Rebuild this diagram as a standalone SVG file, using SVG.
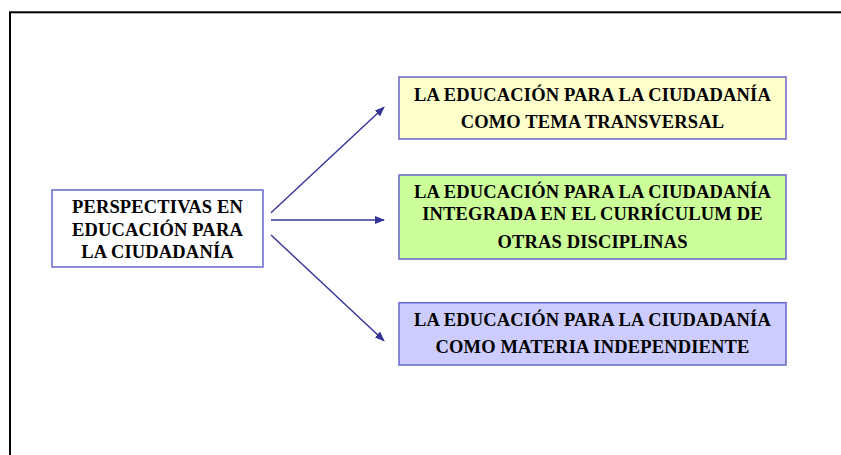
<svg xmlns="http://www.w3.org/2000/svg" width="841" height="455" viewBox="0 0 841 455">
<style>
.box{stroke:#6666cc;stroke-width:1.5}
.t{font-family:"Liberation Serif","Times New Roman",serif;font-weight:bold;font-size:18.5px;letter-spacing:0.15px;fill:#000;text-anchor:middle}
.c{stroke:#333399;stroke-width:1.4;fill:none;marker-end:url(#ah)}
</style>
<defs>
<marker id="ah" viewBox="0 0 10 8" refX="9" refY="4" markerWidth="10" markerHeight="8" markerUnits="userSpaceOnUse" orient="auto">
<path d="M0,0 L10,4 L0,8 Z" fill="#333399"/>
</marker>
</defs>
<rect width="841" height="455" fill="#fff"/>
<rect x="10" y="12.3" width="860" height="480" fill="none" stroke="#000" stroke-width="2"/>
<g id="connectors">
<line class="c" x1="271" y1="212.7" x2="384" y2="107.3"/>
<line class="c" x1="271" y1="220" x2="384" y2="220"/>
<line class="c" x1="271" y1="235" x2="384" y2="340.7"/>
</g>
<g id="n0">
<rect class="box" x="52" y="190" width="211" height="77" fill="#fff"/>
<text class="t" x="157.5" y="213.3">PERSPECTIVAS EN</text>
<text class="t" x="157.5" y="236">EDUCACIÓN PARA</text>
<text class="t" x="157.5" y="258.3">LA CIUDADANÍA</text>
</g>
<g id="n1">
<rect class="box" x="399" y="77" width="387" height="62" fill="#ffffcc"/>
<text class="t" x="592.5" y="100.7">LA EDUCACIÓN PARA LA CIUDADANÍA</text>
<text class="t" x="592.5" y="128.3">COMO TEMA TRANSVERSAL</text>
</g>
<g id="n2">
<rect class="box" x="399" y="175" width="387" height="84" fill="#ccff99"/>
<text class="t" x="592.5" y="198.3">LA EDUCACIÓN PARA LA CIUDADANÍA</text>
<text class="t" x="592.5" y="220">INTEGRADA EN EL CURRÍCULUM DE</text>
<text class="t" x="592.5" y="248.3">OTRAS DISCIPLINAS</text>
</g>
<g id="n3">
<rect class="box" x="399" y="302.7" width="387" height="62.3" fill="#ccccff"/>
<text class="t" x="592.5" y="326">LA EDUCACIÓN PARA LA CIUDADANÍA</text>
<text class="t" x="592.5" y="353.3">COMO MATERIA INDEPENDIENTE</text>
</g>
</svg>
